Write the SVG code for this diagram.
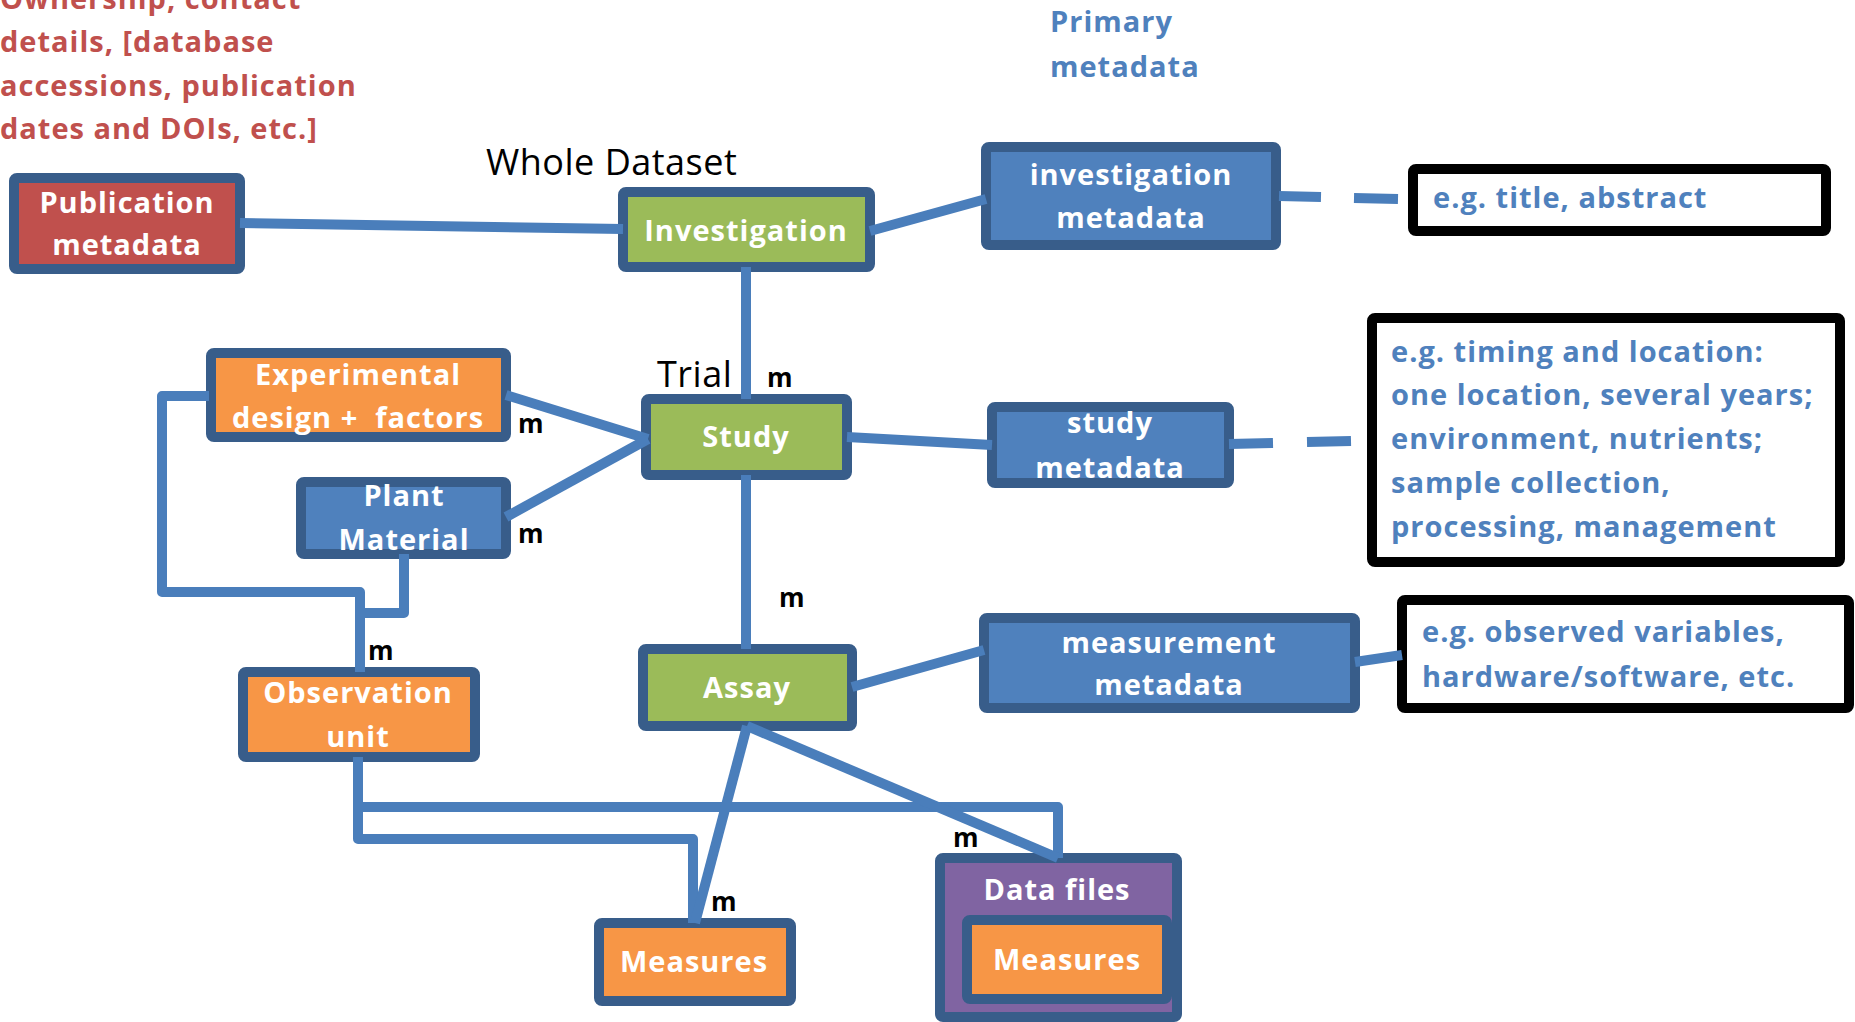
<svg xmlns="http://www.w3.org/2000/svg" width="1855" height="1022" viewBox="0 0 1855 1022">
<style>
.box{stroke:#385D8A;stroke-width:10}
.blue{fill:#4F81BD}.green{fill:#9BBB59}.orange{fill:#F79646}.red{fill:#C0504D}.purple{fill:#8064A2}
.lbl{font-family:"Open Sans","Liberation Sans",sans-serif;font-weight:700;font-size:29px;letter-spacing:1px;fill:#FFFFFF;text-anchor:middle}
.note{font-family:"Open Sans","Liberation Sans",sans-serif;font-weight:700;font-size:29px;letter-spacing:1px;fill:#4F81BD}
.rednote{font-family:"Open Sans","Liberation Sans",sans-serif;font-weight:700;font-size:29px;letter-spacing:1px;fill:#C0504D}
.head{font-family:"Open Sans","Liberation Sans",sans-serif;font-size:36px;letter-spacing:0.5px;fill:#000000}
.m{font-family:"Open Sans","Liberation Sans",sans-serif;font-weight:700;font-size:26px;fill:#000000}
.conn line,.conn polyline{stroke:#4A7EBB;stroke-width:10;fill:none;stroke-linejoin:round}
.dash{stroke:#000000;stroke-width:10}
.eg{fill:#FFFFFF;stroke:#000000;stroke-width:10}
</style>

<!-- free text -->
<g id="publication-note">
<text class="rednote" x="0" y="9">Ownership, contact</text>
<text class="rednote" x="0" y="52">details, [database</text>
<text class="rednote" x="0" y="96">accessions, publication</text>
<text class="rednote" x="0" y="139">dates and DOIs, etc.]</text>
</g>
<g id="primary-note">
<text class="note" x="1050" y="32">Primary</text>
<text class="note" x="1050" y="77">metadata</text>
</g>
<text class="head" x="486" y="175">Whole Dataset</text>
<text class="head" x="657" y="387">Trial</text>

<!-- nodes -->
<g id="publication-metadata">
<rect class="box red" x="14" y="178" width="226" height="91" rx="3"/>
<text class="lbl" x="127" y="213">Publication</text>
<text class="lbl" x="127" y="255">metadata</text>
</g>
<g id="investigation">
<rect class="box green" x="623" y="192" width="247" height="75" rx="3"/>
<text class="lbl" x="746" y="241">Investigation</text>
</g>
<g id="investigation-metadata">
<rect class="box blue" x="986" y="147" width="290" height="98" rx="3"/>
<text class="lbl" x="1131" y="185">investigation</text>
<text class="lbl" x="1131" y="228">metadata</text>
</g>
<g id="study">
<rect class="box green" x="646" y="399" width="201" height="76" rx="3"/>
<text class="lbl" x="746" y="447">Study</text>
</g>
<g id="study-metadata">
<rect class="box blue" x="992" y="407" width="237" height="76" rx="3"/>
<text class="lbl" x="1110" y="433">study</text>
<text class="lbl" x="1110" y="478">metadata</text>
</g>
<g id="experimental-design">
<rect class="box orange" x="211" y="353" width="295" height="84" rx="3"/>
<text class="lbl" x="358" y="385">Experimental</text>
<text class="lbl" x="358" y="428" xml:space="preserve">design +  factors</text>
</g>
<g id="plant-material">
<rect class="box blue" x="301" y="482" width="205" height="72" rx="3"/>
<text class="lbl" x="404" y="506">Plant</text>
<text class="lbl" x="404" y="550">Material</text>
</g>
<g id="observation-unit">
<rect class="box orange" x="243" y="672" width="232" height="85" rx="3"/>
<text class="lbl" x="358" y="703">Observation</text>
<text class="lbl" x="358" y="747">unit</text>
</g>
<g id="assay">
<rect class="box green" x="643" y="649" width="209" height="77" rx="3"/>
<text class="lbl" x="747" y="698">Assay</text>
</g>
<g id="measurement-metadata">
<rect class="box blue" x="984" y="618" width="371" height="90" rx="3"/>
<text class="lbl" x="1169" y="653">measurement</text>
<text class="lbl" x="1169" y="695">metadata</text>
</g>
<g id="measures">
<rect class="box orange" x="599" y="923" width="192" height="78" rx="3"/>
<text class="lbl" x="694" y="972">Measures</text>
</g>
<g id="data-files">
<rect class="box purple" x="940" y="858" width="237" height="159" rx="3"/>
<text class="lbl" x="1057" y="900">Data files</text>
<g id="data-files-measures">
<rect class="box orange" x="967" y="920" width="200" height="79" rx="3"/>
<text class="lbl" x="1067" y="970">Measures</text>
</g>
</g>

<!-- example notes -->
<g id="eg-title">
<rect class="eg" x="1413" y="169" width="413" height="62" rx="3"/>
<text class="note" x="1433" y="208">e.g. title, abstract</text>
</g>
<g id="eg-timing">
<rect class="eg" x="1372" y="318" width="468" height="244" rx="3"/>
<text class="note" x="1391" y="362">e.g. timing and location:</text>
<text class="note" x="1391" y="405">one location, several years;</text>
<text class="note" x="1391" y="449">environment, nutrients;</text>
<text class="note" x="1391" y="493">sample collection,</text>
<text class="note" x="1391" y="537">processing, management</text>
</g>
<g id="eg-observed">
<rect class="eg" x="1402" y="600" width="447" height="108" rx="3"/>
<text class="note" x="1422" y="642">e.g. observed variables,</text>
<text class="note" x="1422" y="687">hardware/software, etc.</text>
</g>

<!-- connectors -->
<g id="connectors" class="conn">
<line x1="240" y1="223" x2="623" y2="229"/>
<line x1="870" y1="231" x2="986" y2="199"/>
<line x1="746" y1="267" x2="746" y2="399"/>
<line x1="847" y1="437" x2="992" y2="445"/>
<line x1="506" y1="395" x2="648" y2="439"/>
<line x1="506" y1="517" x2="648" y2="439"/>
<line x1="746" y1="475" x2="746" y2="649"/>
<line x1="852" y1="687" x2="984" y2="650"/>
<polyline points="209,396 162,396 162,592 360,592 360,672"/>
<polyline points="404,554 404,613 360,613"/>
<polyline points="358,757 358,807 1058,807 1058,858"/>
<polyline points="358,807 358,839 693,839 693,923"/>
<line x1="747" y1="726" x2="695" y2="923"/>
<line x1="747" y1="726" x2="1058" y2="858"/>
<line class="dash" x1="1279" y1="196" x2="1321" y2="197"/>
<line class="dash" x1="1354" y1="198" x2="1398" y2="199"/>
<line class="dash" x1="1229" y1="444" x2="1273" y2="443"/>
<line class="dash" x1="1307" y1="442" x2="1351" y2="441"/>
<line class="dash" x1="1355" y1="662" x2="1402" y2="655"/>
</g>

<!-- multiplicity labels -->
<g id="labels">
<text class="m" x="767" y="387">m</text>
<text class="m" x="518" y="433">m</text>
<text class="m" x="518" y="543">m</text>
<text class="m" x="368" y="660">m</text>
<text class="m" x="779" y="607">m</text>
<text class="m" x="711" y="911">m</text>
<text class="m" x="953" y="847">m</text>
</g>
</svg>
